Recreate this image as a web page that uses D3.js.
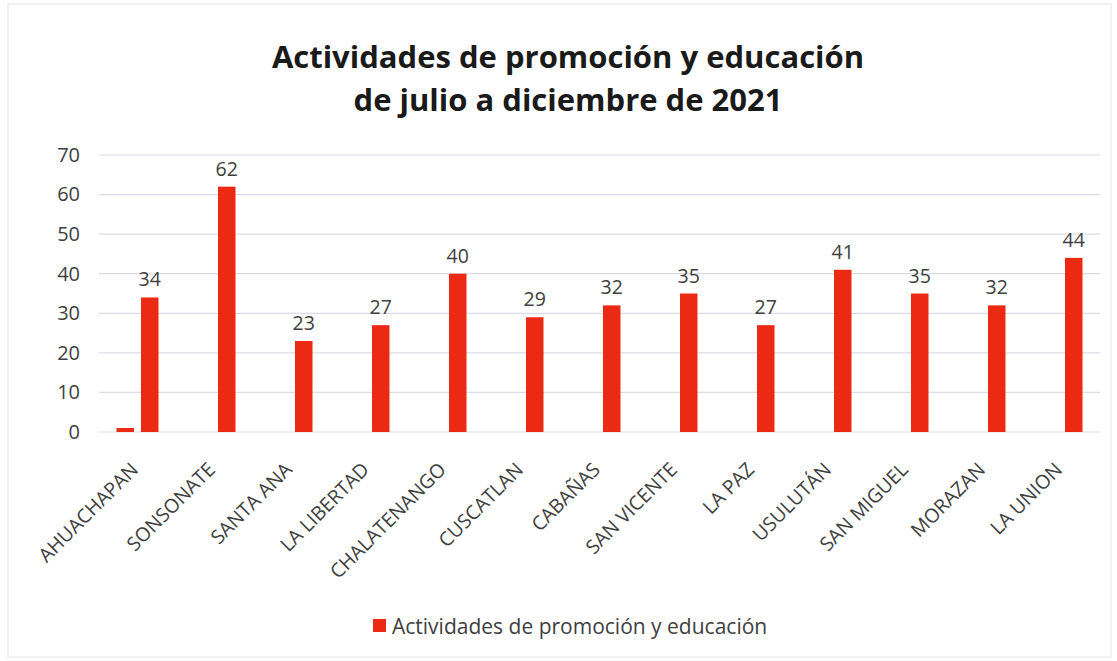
<script src="https://d3js.org/d3.v7.min.js"></script>
<style>
  body { margin: 0; background: #fff; }
  svg text { font-family: "Open Sans", "Noto Sans", Arial, sans-serif; }
</style>
<body>
<div id="chart"></div>
<script>
  var width = 1117,
      height = 661;

  var departments = ["AHUACHAPAN", "SONSONATE", "SANTA ANA", "LA LIBERTAD", "CHALATENANGO",
    "CUSCATLAN", "CABAÑAS", "SAN VICENTE", "LA PAZ", "USULUTÁN", "SAN MIGUEL", "MORAZAN", "LA UNION"];
  var activities = [34, 62, 23, 27, 40, 29, 32, 35, 27, 41, 35, 32, 44];
  // stray bar visible next to the first group
  var stray = [1, 0, 0, 0, 0, 0, 0, 0, 0, 0, 0, 0, 0];
  var yTicks = [0, 10, 20, 30, 40, 50, 60, 70];
  var seriesName = "Actividades de promoción y educación";
  var titleLines = ["Actividades de promoción y educación", "de julio a diciembre de 2021"];

  var margin = {left: 99, right: 17, top: 155, bottom: 229};
  var red = "#ec2a14";

  var svg = d3.select("#chart").append("svg")
      .attr("width", width)
      .attr("height", height);

  svg.append("rect")
      .attr("x", 8).attr("y", 4)
      .attr("width", width - 14).attr("height", height - 8)
      .attr("fill", "#fff")
      .attr("stroke", "#e4e4ea");

  var x = d3.scaleBand()
      .domain(departments)
      .range([margin.left, width - margin.right]);

  var y = d3.scaleLinear()
      .domain([0, 70])
      .range([height - margin.bottom, margin.top]);

  var barW = 17.5;

  // gridlines
  svg.append("g")
    .selectAll("line")
    .data(yTicks)
    .enter().append("line")
      .attr("x1", margin.left)
      .attr("x2", width - margin.right)
      .attr("y1", function(d) { return y(d); })
      .attr("y2", function(d) { return y(d); })
      .attr("stroke", "#dcdce8")
      .attr("stroke-width", 1.2);

  // y axis labels
  var yAxis = svg.append("g")
      .attr("transform", "translate(" + (margin.left - 19) + ",0)")
      .call(d3.axisLeft(y).tickValues(yTicks).tickSize(0).tickPadding(0));
  yAxis.select(".domain").remove();
  yAxis.selectAll("text")
      .attr("font-size", 20)
      .attr("fill", "#404040")
      .style("font-family", "'Open Sans', sans-serif");

  // bars
  var groups = svg.append("g");
  groups.selectAll("rect.stray")
    .data(departments.map(function(d, i) { return {k: d, v: stray[i]}; }).filter(function(d) { return d.v > 0; }))
    .enter().append("rect")
      .attr("class", "stray")
      .attr("x", function(d) { return x(d.k) + x.bandwidth() / 2 - barW - 3.5; })
      .attr("y", function(d) { return y(d.v); })
      .attr("width", barW)
      .attr("height", function(d) { return y(0) - y(d.v); })
      .attr("fill", red);

  groups.selectAll("rect.main")
    .data(departments.map(function(d, i) { return {k: d, v: activities[i]}; }))
    .enter().append("rect")
      .attr("class", "main")
      .attr("x", function(d) { return x(d.k) + x.bandwidth() / 2 + 3.5; })
      .attr("y", function(d) { return y(d.v); })
      .attr("width", barW)
      .attr("height", function(d) { return y(0) - y(d.v); })
      .attr("fill", red);

  groups.selectAll("text.val")
    .data(departments.map(function(d, i) { return {k: d, v: activities[i]}; }))
    .enter().append("text")
      .attr("x", function(d) { return x(d.k) + x.bandwidth() / 2 + 3.5 + barW / 2; })
      .attr("y", function(d) { return y(d.v) - 11; })
      .attr("text-anchor", "middle")
      .attr("font-size", 19.5)
      .attr("fill", "#404040")
      .text(function(d) { return d.v; });

  // x axis labels
  var xAxis = svg.append("g")
      .attr("transform", "translate(0," + y(0) + ")")
      .call(d3.axisBottom(x).tickSize(0).tickPadding(0));
  xAxis.select(".domain").remove();
  xAxis.selectAll("text")
      .attr("font-size", 19.5)
      .attr("fill", "#404040")
      .attr("text-anchor", "end")
      .attr("dy", "0.35em")
      .attr("transform", "translate(-3,34) rotate(-45)")
      .style("font-family", "'Open Sans', sans-serif");

  // title
  svg.append("g").selectAll("text")
    .data(titleLines)
    .enter().append("text")
      .attr("x", 568)
      .attr("y", function(d, i) { return 68 + i * 43; })
      .attr("text-anchor", "middle")
      .attr("font-size", 31)
      .attr("font-weight", "bold")
      .attr("fill", "#1a1a1a")
      .text(function(d) { return d; });

  // legend
  var legend = svg.append("g").attr("transform", "translate(373,634)");
  legend.append("rect")
      .attr("x", 0).attr("y", -15)
      .attr("width", 13).attr("height", 13)
      .attr("fill", red);
  legend.append("text")
      .attr("x", 19).attr("y", 0)
      .attr("font-size", 21)
      .attr("fill", "#404040")
      .text(seriesName);
</script>
</body>
